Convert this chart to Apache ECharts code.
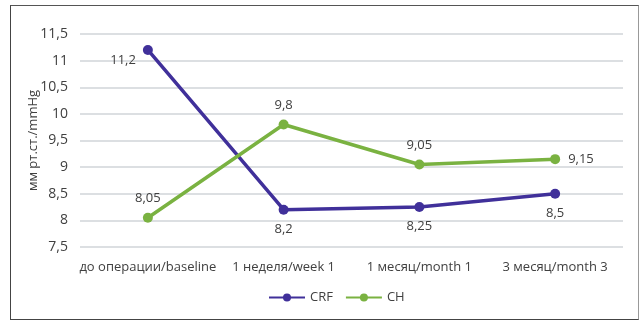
<!DOCTYPE html>
<html>
<head>
<meta charset="utf-8">
<script src="https://cdn.jsdelivr.net/npm/echarts@6/dist/echarts.min.js"></script>
<style>
  html, body { margin: 0; padding: 0; background: #fff; }
  #frame { position: absolute; left: 10px; top: 5px; width: 627px; height: 313px;
           border-left: 1.5px solid #444; border-top: 1.5px solid #555; border-bottom: 1.5px solid #444; border-right: 1.5px solid #999; }
  #chart { position: absolute; left: 0; top: 0; width: 641px; height: 321px; }
</style>
</head>
<body>
<div id="frame"></div>
<div id="chart"></div>
<script>
// Pressure readings, mm Hg, at four follow-up points
const categories = ['до операции/baseline', '1 неделя/week 1', '1 месяц/month 1', '3 месяц/month 3'];
const crfValues = [11.2, 8.2, 8.25, 8.5];
const chValues = [8.05, 9.8, 9.05, 9.15];
const crfLabelPos = ['left', 'bottom', 'bottom', 'bottom'];
const chLabelPos = ['top', 'top', 'top', 'right'];

const fmt = v => String(v).replace('.', ',');
const textColor = '#404040';
const font = 'Open Sans';

function buildData(values, positions) {
  return values.map((v, i) => ({
    value: v,
    label: positions[i] === 'left'
      ? { position: 'left', offset: [-2, 10] }
      : { position: positions[i], distance: 8 }
  }));
}

const chart = echarts.init(document.getElementById('chart'), null, { renderer: 'canvas' });
chart.setOption({
  animation: false,
  backgroundColor: 'transparent',
  textStyle: { fontFamily: font },
  grid: { left: 80, right: 18, top: 34, bottom: 74 },
  legend: {
    bottom: 12,
    left: 263,
    itemWidth: 36,
    itemHeight: 10,
    itemGap: 12,
    textStyle: { color: textColor, fontSize: 13, fontFamily: font },
    data: ['CRF', 'CH']
  },
  xAxis: {
    type: 'category',
    data: categories,
    boundaryGap: true,
    axisLine: { show: false },
    axisTick: { show: false },
    axisLabel: { color: textColor, fontSize: 13, fontFamily: font, margin: 14, interval: 0, hideOverlap: false }
  },
  yAxis: {
    type: 'value',
    min: 7.5,
    max: 11.5,
    interval: 0.5,
    name: 'мм рт.ст./mmHg',
    nameLocation: 'middle',
    nameGap: 40,
    nameMoveOverlap: false,
    nameTextStyle: { color: textColor, fontSize: 13, fontFamily: font },
    axisLine: { show: false },
    axisTick: { show: false },
    axisLabel: { color: textColor, fontSize: 14, fontFamily: font, margin: 12, formatter: fmt },
    splitLine: { lineStyle: { color: '#d0d5d8', width: 1.5 } }
  },
  series: [
    {
      name: 'CRF',
      type: 'line',
      data: buildData(crfValues, crfLabelPos),
      color: '#40309a',
      lineStyle: { width: 3.5 },
      symbol: 'circle',
      symbolSize: 10,
      label: { show: true, color: textColor, fontSize: 13, fontFamily: font, formatter: p => fmt(p.value) }
    },
    {
      name: 'CH',
      type: 'line',
      data: buildData(chValues, chLabelPos),
      color: '#7ab241',
      lineStyle: { width: 3.5 },
      symbol: 'circle',
      symbolSize: 10,
      label: { show: true, color: textColor, fontSize: 13, fontFamily: font, formatter: p => fmt(p.value) }
    }
  ]
});
</script>
</body>
</html>
